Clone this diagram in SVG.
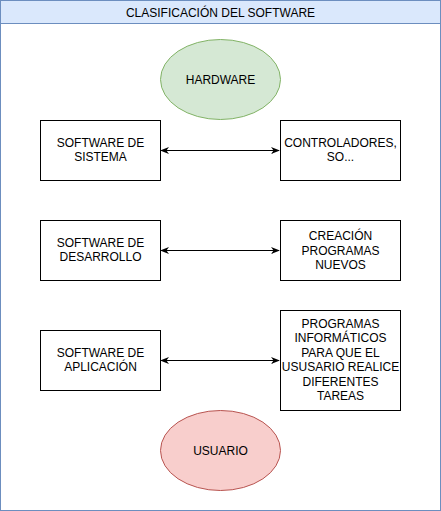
<svg xmlns="http://www.w3.org/2000/svg" width="441" height="511" viewBox="0 0 441 511">
<defs>
<style>
text{font-family:"Liberation Sans",Arial,sans-serif;font-size:12px;fill:#000;text-anchor:middle;dominant-baseline:central}
.box{fill:#fff;stroke:#000;stroke-width:1}
.edge{stroke:#000;stroke-width:1;fill:none}
</style>
<marker id="ah" viewBox="0 0 10 10" refX="9" refY="5" markerWidth="9" markerHeight="9" orient="auto-start-reverse" markerUnits="userSpaceOnUse">
<path d="M0,1 L10,5 L0,9 L3,5 Z" fill="#000"/>
</marker>
</defs>
<rect width="441" height="511" fill="#fff"/>
<g id="container">
<rect x="0.5" y="0.5" width="440" height="510" fill="#fff" stroke="#6c8ebf"/>
<rect x="0.5" y="0.5" width="440" height="23" fill="#dae8fc" stroke="#6c8ebf"/>
<text x="220.5" y="13">CLASIFICACIÓN DEL SOFTWARE</text>
</g>
<g id="connectors">
<path class="edge" d="M161,150.5 H279" marker-start="url(#ah)" marker-end="url(#ah)"/>
<path class="edge" d="M161,250.5 H279" marker-start="url(#ah)" marker-end="url(#ah)"/>
<path class="edge" d="M161,360.5 H279" marker-start="url(#ah)" marker-end="url(#ah)"/>
</g>
<g id="hardware">
<ellipse cx="220.5" cy="79.5" rx="60" ry="40" fill="#d5e8d4" stroke="#82b366"/>
<text x="220.5" y="79.5">HARDWARE</text>
</g>
<g id="sw-sistema">
<rect class="box" x="40.5" y="120.5" width="120" height="60"/>
<text x="100.5" y="143">SOFTWARE DE</text>
<text x="100.5" y="157">SISTEMA</text>
</g>
<g id="controladores">
<rect class="box" x="280.5" y="120.5" width="120" height="60"/>
<text x="340.5" y="143">CONTROLADORES,</text>
<text x="340.5" y="157">SO...</text>
</g>
<g id="sw-desarrollo">
<rect class="box" x="40.5" y="220.5" width="120" height="60"/>
<text x="100.5" y="243">SOFTWARE DE</text>
<text x="100.5" y="257">DESARROLLO</text>
</g>
<g id="creacion">
<rect class="box" x="280.5" y="220.5" width="120" height="60"/>
<text x="340.5" y="236">CREACIÓN</text>
<text x="340.5" y="250.5">PROGRAMAS</text>
<text x="340.5" y="265">NUEVOS</text>
</g>
<g id="sw-aplicacion">
<rect class="box" x="40.5" y="330.5" width="120" height="60"/>
<text x="100.5" y="353">SOFTWARE DE</text>
<text x="100.5" y="367">APLICACIÓN</text>
</g>
<g id="programas">
<rect class="box" x="280.5" y="310.5" width="120" height="100"/>
<text x="340.5" y="323.5">PROGRAMAS</text>
<text x="340.5" y="338">INFORMÁTICOS</text>
<text x="340.5" y="352.5">PARA QUE EL</text>
<text x="340.5" y="367">USUSARIO REALICE</text>
<text x="340.5" y="381.5">DIFERENTES</text>
<text x="340.5" y="396">TAREAS</text>
</g>
<g id="usuario">
<ellipse cx="220.5" cy="450.5" rx="60" ry="40" fill="#f8cecc" stroke="#b85450"/>
<text x="220.5" y="450.5">USUARIO</text>
</g>
</svg>
